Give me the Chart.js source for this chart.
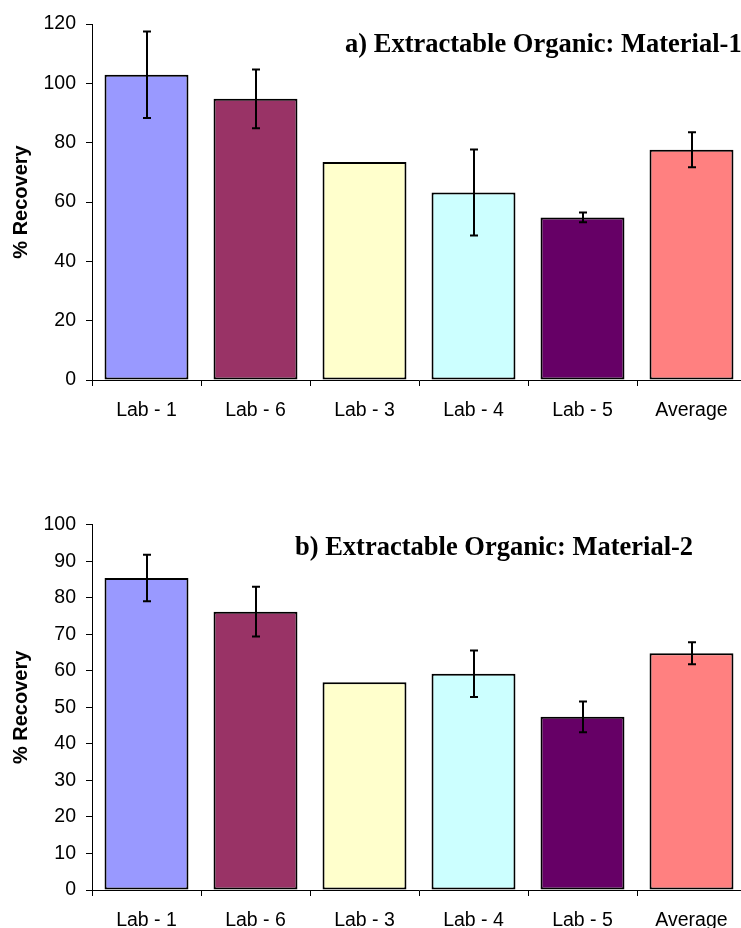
<!DOCTYPE html>
<html>
<head>
<meta charset="utf-8">
<script src="https://cdn.jsdelivr.net/npm/chart.js@4/dist/chart.umd.min.js"></script>
<style>
  html, body { margin: 0; padding: 0; background: #fff; }
  body { width: 741px; height: 928px; overflow: hidden; position: relative; }
  .box { position: absolute; left: 0; width: 750px; height: 440px; }
</style>
</head>
<body>
<div class="box" style="top:0"><canvas id="chartA" width="750" height="440"></canvas></div>
<div class="box" style="top:500px"><canvas id="chartB" width="750" height="440"></canvas></div>
<script>
// --- datos ---
const labs = ['Lab - 1', 'Lab - 6', 'Lab - 3', 'Lab - 4', 'Lab - 5', 'Average'];
const barColors = ['#9999FF', '#993366', '#FFFFCC', '#CCFFFF', '#660066', '#FF8080'];

// a) Material-1
const recovery1 = [102.9, 94.8, 73.5, 63.2, 54.8, 77.6];
const error1 = [14.6, 9.9, null, 14.5, 1.65, 5.9];

// b) Material-2
const recovery2 = [85.4, 76.2, 56.9, 59.2, 47.4, 64.8];
const error2 = [6.35, 6.8, null, 6.35, 4.2, 3.0];

const sansFont = "'Liberation Sans', Arial, sans-serif";
const serifFont = "'Liberation Serif', 'Times New Roman', serif";

// barras de error (+/-) dibujadas con la escala y
const errorBars = {
    id: 'errorBars',
    afterDatasetsDraw(chart) {
        const ctx = chart.ctx;
        const yScale = chart.scales.y;
        const ds = chart.data.datasets[0];
        const meta = chart.getDatasetMeta(0);
        ctx.save();
        ctx.strokeStyle = '#000';
        ctx.lineWidth = 2;
        meta.data.forEach((bar, i) => {
            const e = ds.errors[i];
            if (e == null) return;
            const v = ds.data[i];
            const yTop = yScale.getPixelForValue(v + e);
            const yBot = yScale.getPixelForValue(v - e);
            const x = Math.round(bar.x);
            ctx.beginPath();
            ctx.moveTo(x, yTop); ctx.lineTo(x, yBot);
            ctx.moveTo(x - 4, yTop); ctx.lineTo(x + 4, yTop);
            ctx.moveTo(x - 4, yBot); ctx.lineTo(x + 4, yBot);
            ctx.stroke();
        });
        ctx.restore();
    }
};

// título dentro del área del gráfico
const innerTitle = {
    id: 'innerTitle',
    afterDraw(chart, args, opts) {
        const ctx = chart.ctx;
        ctx.save();
        ctx.font = 'bold 26.5px ' + serifFont;
        ctx.fillStyle = '#000';
        ctx.textBaseline = 'alphabetic';
        ctx.textAlign = 'left';
        ctx.fillText(opts.text, opts.x, opts.y);
        ctx.restore();
    }
};

function makeChart(id, values, errors, yMax, yStep, title, titleX, titleY, padTop, xHeight) {
    return new Chart(document.getElementById(id), {
        type: 'bar',
        data: {
            labels: labs,
            datasets: [{
                data: values,
                errors: errors,
                backgroundColor: barColors,
                borderColor: '#000',
                borderWidth: 2,
                borderSkipped: false,
                categoryPercentage: 1,
                barPercentage: 0.77
            }]
        },
        options: {
            responsive: false,
            animation: false,
            events: [],
            layout: { padding: { top: padTop, right: 4, left: 0, bottom: 0 } },
            plugins: {
                legend: { display: false },
                tooltip: { enabled: false },
                innerTitle: { text: title, x: titleX, y: titleY }
            },
            scales: {
                x: {
                    grid: { drawOnChartArea: false, tickLength: 6, color: '#000', offset: true },
                    border: { color: '#000', width: 1 },
                    ticks: { color: '#000', font: { family: sansFont, size: 19.5 }, padding: 13, maxRotation: 0 },
                    afterFit(scale) { scale.height = xHeight; }
                },
                y: {
                    min: 0,
                    max: yMax,
                    ticks: { stepSize: yStep, color: '#000', font: { family: sansFont, size: 19.5 }, padding: 10 },
                    grid: { drawOnChartArea: false, tickLength: 6, color: '#000' },
                    border: { color: '#000', width: 1 },
                    title: {
                        display: true,
                        text: '% Recovery',
                        color: '#000',
                        font: { family: sansFont, size: 20, weight: 'bold' },
                        padding: { top: 9, bottom: 0 }
                    },
                    afterFit(scale) { scale.width = 92; }
                }
            }
        },
        plugins: [errorBars, innerTitle]
    });
}

makeChart('chartA', recovery1, error1, 120, 20, 'a) Extractable Organic: Material-1', 345, 52, 24, 60);
makeChart('chartB', recovery2, error2, 100, 10, 'b) Extractable Organic: Material-2', 295, 55, 24.7, 50);
</script>
</body>
</html>
